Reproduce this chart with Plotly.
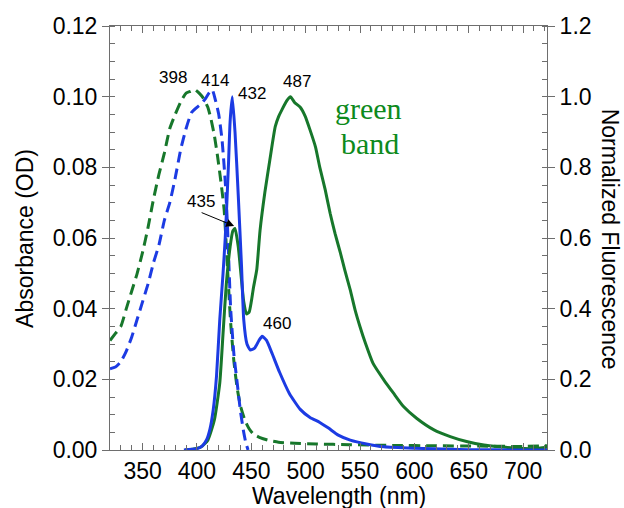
import plotly.graph_objects as go

# ---- data ----
wl_abs_green = [320, 325, 330, 335, 340, 345, 350, 355, 360, 365, 370, 375, 380, 385, 390, 394, 398, 402,
                406, 410, 413, 416, 419, 422, 425, 428, 431, 434, 437, 440, 444, 448, 452, 458, 465, 475,
                490, 510, 540, 580, 620, 660, 700, 722]
abs_green = [0.031, 0.033, 0.035, 0.040, 0.045, 0.050, 0.056, 0.063, 0.071, 0.078, 0.084, 0.091, 0.095,
             0.0985, 0.101, 0.1015, 0.102, 0.101, 0.0995, 0.097, 0.0935, 0.089, 0.083, 0.076, 0.068, 0.052,
             0.036, 0.025, 0.0175, 0.0125, 0.0085, 0.006, 0.0045, 0.0035, 0.0028, 0.0022, 0.0019, 0.0017,
             0.0015, 0.0013, 0.0012, 0.0011, 0.0010, 0.0012]

wl_abs_blue = [320, 325, 330, 335, 340, 345, 350, 355, 360, 365, 370, 375, 380, 385, 390, 395, 400, 404,
               408, 411, 414, 417, 420, 423, 426, 428, 431, 434, 437, 440, 443, 445, 447]
abs_blue = [0.023, 0.0235, 0.025, 0.028, 0.032, 0.037, 0.042, 0.047, 0.053, 0.058, 0.065, 0.070, 0.077,
            0.085, 0.091, 0.0955, 0.097, 0.098, 0.0995, 0.101, 0.102, 0.099, 0.095, 0.088, 0.076, 0.064,
            0.040, 0.027, 0.019, 0.011, 0.005, 0.002, 0.0]

wl_fl_blue = [388, 395, 400, 405, 409, 412, 415, 418, 421, 424, 426, 427.5, 429, 430.5, 432.5, 435, 438,
              441, 443, 446, 449, 453, 457, 460, 464, 469, 476, 485, 495, 504, 513, 521, 530, 541, 556,
              572, 600, 650, 700, 722]
fl_blue = [0.0, 0.002, 0.004, 0.012, 0.03, 0.06, 0.115, 0.21, 0.37, 0.50, 0.60, 0.70, 0.81, 0.93, 1.0,
           0.90, 0.72, 0.52, 0.37, 0.30, 0.283, 0.288, 0.31, 0.322, 0.31, 0.274, 0.22, 0.16, 0.115, 0.092,
           0.078, 0.062, 0.042, 0.028, 0.017, 0.009, 0.005, 0.001, 0.0, 0.0]

wl_fl_green = [389, 397, 404, 410, 416, 421, 424, 427, 430.5, 433, 435, 438, 441, 443, 445.5, 448, 450,
               452, 455, 458, 462.5, 467, 472, 475, 478, 483, 486, 490, 495, 499.5, 504, 509, 513, 518,
               522.5, 527, 532, 536, 541, 545.5, 550, 555, 562, 572, 581, 590, 602, 618, 633, 648, 664,
               679, 694, 710, 722]
fl_green = [0.0, 0.003, 0.009, 0.028, 0.085, 0.19, 0.33, 0.47, 0.575, 0.62, 0.627, 0.575, 0.48, 0.42,
            0.385, 0.39, 0.42, 0.46, 0.51, 0.62, 0.73, 0.82, 0.915, 0.943, 0.962, 0.99, 1.0, 0.983, 0.97,
            0.945, 0.906, 0.858, 0.80, 0.736, 0.67, 0.613, 0.557, 0.509, 0.453, 0.396, 0.349, 0.302,
            0.245, 0.198, 0.16, 0.123, 0.09, 0.057, 0.038, 0.024, 0.014, 0.009, 0.005, 0.004, 0.008]

peak_labels = ["398", "414", "432", "487", "435", "460"]
peak_x = [378, 416.7, 450.7, 492.1, 403.8, 473.7]
peak_y = [0.1053, 0.1047, 0.101, 0.1044, 0.0702, 0.0359]

x_ticks = [350, 400, 450, 500, 550, 600, 650, 700]

BLUE = "#1c3be3"
GREEN = "#17772b"
TEXT_GREEN = "#0d8a1c"
AXC = "#6e6e6e"
FONT = "Liberation Sans"
FS = 23

fig = go.Figure()
fig.add_trace(go.Scatter(x=wl_abs_green, y=abs_green, mode="lines", yaxis="y",
                         line=dict(color=GREEN, width=3, dash="11px,6px", shape="spline", smoothing=0.5)))
fig.add_trace(go.Scatter(x=wl_abs_blue, y=abs_blue, mode="lines", yaxis="y",
                         line=dict(color=BLUE, width=3, dash="11px,6px", shape="spline", smoothing=0.5)))
fig.add_trace(go.Scatter(x=wl_fl_green, y=fl_green, mode="lines", yaxis="y2",
                         line=dict(color=GREEN, width=3, shape="spline", smoothing=0.5)))
fig.add_trace(go.Scatter(x=wl_fl_blue, y=fl_blue, mode="lines", yaxis="y2",
                         line=dict(color=BLUE, width=3, shape="spline", smoothing=0.5)))

tickfont = dict(family=FONT, size=FS, color="black")
common = dict(showgrid=False, zeroline=False, tickcolor=AXC, tickwidth=1)

fig.update_layout(
    width=624, height=508,
    margin=dict(l=110, r=77, t=26, b=58),
    paper_bgcolor="white", plot_bgcolor="white",
    showlegend=False,
    # labelled bottom axis: inside major ticks (so labels sit close), mirrored to the top
    xaxis=dict(range=[320, 722], tickvals=x_ticks, ticks="inside", ticklen=7,
               showline=True, linecolor=AXC, linewidth=1, mirror="ticks",
               tickfont=tickfont, ticklabelstandoff=0,
               minor=dict(ticks="inside", dtick=10, tick0=320, ticklen=5, tickcolor=AXC),
               **common),
    # outside half of the major ticks
    xaxis2=dict(range=[320, 722], tickvals=x_ticks, ticks="outside", ticklen=7, overlaying="x",
                anchor="y", showline=False, mirror="ticks", showticklabels=False, **common),
    yaxis=dict(range=[0, 0.12], dtick=0.02, tickformat=".2f", ticks="outside", ticklen=7,
               showline=True, linecolor=AXC, linewidth=1, tickfont=tickfont,
               minor=dict(ticks="inside", dtick=0.005, ticklen=5, tickcolor=AXC),
               **common),
    yaxis2=dict(range=[0, 1.2], dtick=0.2, tickformat=".1f", ticks="outside", ticklen=7,
                overlaying="y", side="right", anchor="x",
                showline=True, linecolor=AXC, linewidth=1, tickfont=tickfont,
                minor=dict(ticks="inside", dtick=0.05, ticklen=5, tickcolor=AXC),
                **common),
    yaxis3=dict(range=[0, 0.12], dtick=0.02, ticks="inside", ticklen=7, overlaying="y",
                anchor="x", showline=False, mirror="ticks", showticklabels=False, **common),
)

annos = []
for t, x, y in zip(peak_labels, peak_x, peak_y):
    annos.append(dict(x=x, y=y, xref="x", yref="y", text=t, showarrow=False,
                      xanchor="center", yanchor="middle",
                      font=dict(family=FONT, size=17, color="black")))
# arrow pointing to the 435 shoulder
annos.append(dict(x=434.2, y=0.0634, xref="x", yref="y", ax=-34, ay=-14, text="",
                  showarrow=True, arrowhead=2, arrowsize=1.6, arrowwidth=1, arrowcolor="black"))
annos.append(dict(x=557.5, y=(450 - 108) / 3533.3, xref="x", yref="y", text="green", showarrow=False,
                  xanchor="center", yanchor="middle",
                  font=dict(family="Liberation Serif", size=30, color=TEXT_GREEN)))
annos.append(dict(x=559.5, y=(450 - 143) / 3533.3, xref="x", yref="y", text="band", showarrow=False,
                  xanchor="center", yanchor="middle",
                  font=dict(family="Liberation Serif", size=30, color=TEXT_GREEN)))
# axis titles
annos.append(dict(x=(339 - 110) / 436.7, y=(450 - 496) / 424, xref="paper", yref="paper",
                  xanchor="center", yanchor="middle",
                  text="Wavelength (nm)", showarrow=False, font=dict(family=FONT, size=FS, color="black")))
annos.append(dict(x=(25 - 110) / 436.7, y=(450 - 238) / 424, xref="paper", yref="paper",
                  xanchor="center", yanchor="middle",
                  text="Absorbance (OD)", showarrow=False, textangle=-90,
                  font=dict(family=FONT, size=FS, color="black")))
annos.append(dict(x=(610 - 110) / 436.7, y=(450 - 239) / 424, xref="paper", yref="paper",
                  xanchor="center", yanchor="middle",
                  text="Normalized Fluorescence", showarrow=False, textangle=90,
                  font=dict(family=FONT, size=FS, color="black")))
fig.update_layout(annotations=annos)

fig.write_html("out.html")
